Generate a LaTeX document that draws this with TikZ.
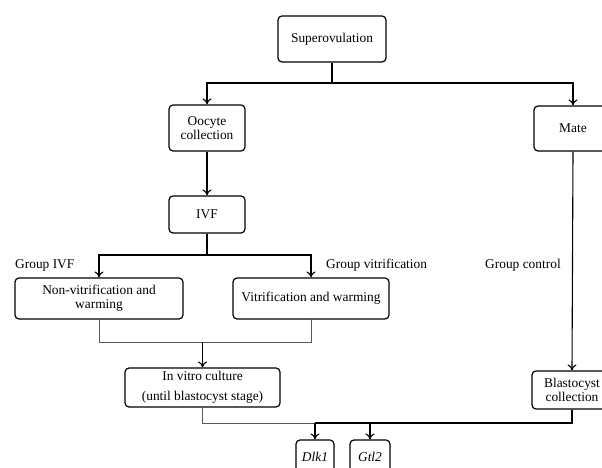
\documentclass[tikz,border=0pt]{standalone}
\usepackage{fontspec}
\setmainfont{Liberation Serif}
\usetikzlibrary{arrows.meta}
\tikzset{
	box/.style={draw, rounded corners=4pt, line width=1.2pt, align=center, inner sep=0pt,
			font=\fontsize{13.4}{13.6}\selectfont},
	link/.style={line width=1.1pt, >={To[length=6pt,width=9pt]}},
	thinlink/.style={line width=0.8pt, draw=black!65, >={To[length=6pt,width=9pt]}},
	grouplabel/.style={font=\fontsize{13.4}{13.6}\selectfont, inner sep=0pt}
}

\begin{document}
\begin{tikzpicture}[x=1pt, y=1pt]
			\useasboundingbox (0,0) rectangle (602,468);

			% Boxes
			\node[box, minimum width=108pt, minimum height=46pt] (super) at (332,429) {Superovulation};
			\node[box, minimum width=76pt, minimum height=46pt] (oocyte) at (207,340) {Oocyte\\collection};
			\node[box, minimum width=76pt, minimum height=37pt] (ivf) at (207,253.5) {IVF};
			\node[box, minimum width=78pt, minimum height=45pt] (mate) at (573,339.5) {Mate};
			\node[box, minimum width=168pt, minimum height=41pt] (nonvit) at (99,169.5) {Non-vitrification and\\warming};
			\node[box, minimum width=156pt, minimum height=41pt] (vit) at (311,169.5) {Vitrification and warming};
			\node[box, minimum width=155pt, minimum height=39pt] (invitro) at (202.5,80.5) {In vitro culture\\[6pt](until blastocyst stage)};
			\node[box, minimum width=80pt, minimum height=38pt] (blast) at (572,78) {Blastocyst\\collection};
			\node[box, minimum width=38pt, minimum height=34pt] (dlk) at (315,11) {\itshape Dlk1};
			\node[box, minimum width=40pt, minimum height=34pt] (gtl) at (370,11) {\itshape Gtl2};

			% Group labels
			\node[grouplabel, anchor=west] (givf) at (15,203) {Group IVF};
			\node[grouplabel, anchor=west] (gvit) at (326,203) {Group vitrification};
			\node[grouplabel, anchor=west] (gctrl) at (485,203) {Group control};

			% Junctions
			\coordinate (split1) at (332,385);
			\coordinate (split2) at (207,213);
			\coordinate (merge1) at (202.5,126);
			\coordinate (merge2) at (315,45);

			% Connectors
			\draw[link] (super.south) -- (split1);
			\draw[link,->] (split1) -| (oocyte.north);
			\draw[link,->] (split1) -| (mate.north);
			\draw[link,->] (oocyte.south) -- (ivf.north);
			\draw[link] (ivf.south) -- (split2);
			\draw[link,->] (split2) -| (nonvit.north);
			\draw[link,->] (split2) -| (vit.north);
			\draw[thinlink] (nonvit.south) |- (merge1);
			\draw[thinlink] (vit.south) |- (merge1);
			\draw[link,->] (merge1) -- (invitro.north);
			\draw[link,->] (mate.south) -- (blast.north);
			\draw[thinlink] (invitro.south) |- (merge2);
			\draw[link] (blast.south) |- (merge2);
			\draw[link,->] (merge2) -- (dlk.north);
			\draw[link,->] (merge2) -| (gtl.north);
		\end{tikzpicture}
\end{document}
